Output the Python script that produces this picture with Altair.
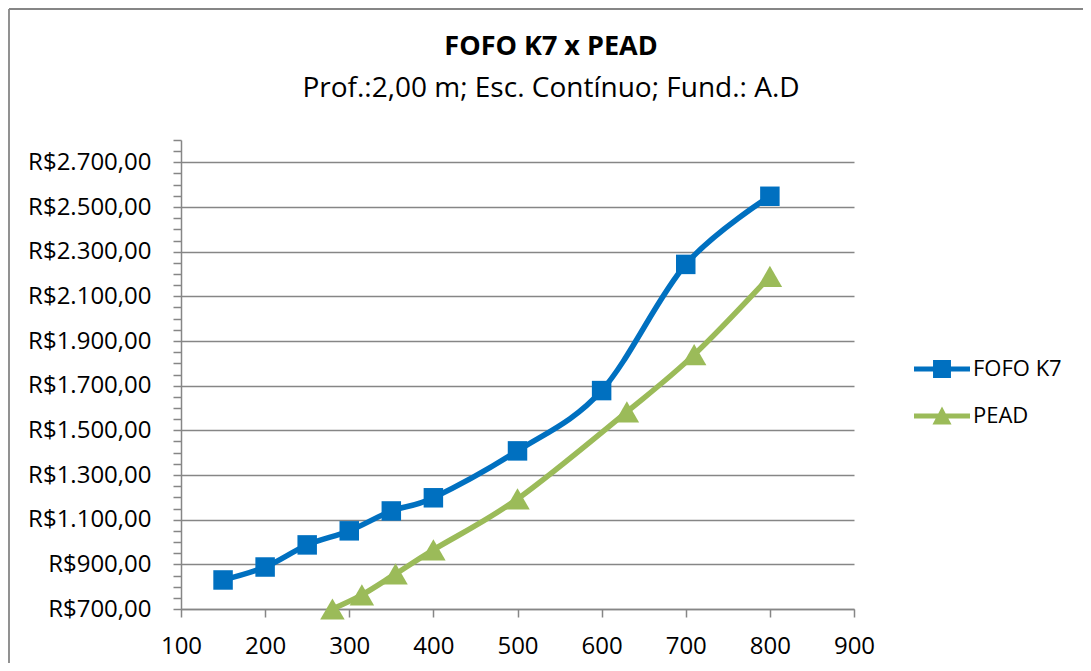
import altair as alt
import pandas as pd

# Data
fofo_x = [150, 200, 250, 300, 350, 400, 500, 600, 700, 800]
fofo_y = [830, 888, 987, 1050, 1139, 1198, 1408, 1678, 2243, 2548]
pead_x = [280, 315, 355, 400, 500, 630, 710, 800]
pead_y = [700, 763, 857, 965, 1193, 1583, 1839, 2189]
series_names = ["FOFO K7", "PEAD"]
colors = ["#0070C0", "#9BBB59"]
x_ticks = [100, 200, 300, 400, 500, 600, 700, 800, 900]
y_ticks = list(range(700, 2801, 50))
title_text = "FOFO K7 x PEAD"
subtitle_text = "Prof.:2,00 m; Esc. Contínuo; Fund.: A.D"

df = pd.DataFrame({
    "x": fofo_x + pead_x,
    "y": fofo_y + pead_y,
    "s": ["FOFO K7"] * len(fofo_x) + ["PEAD"] * len(pead_x),
    "o": list(range(len(fofo_x))) + list(range(len(pead_x))),
})

FONT = "Open Sans"
GRAY = "#868686"

x_enc = alt.X("x:Q", scale=alt.Scale(domain=[100, 900], nice=False, zero=False),
              axis=alt.Axis(values=x_ticks, grid=False, title=None, labelFontSize=24,
                            labelFont=FONT, labelColor="#000000", labelPadding=17,
                            tickSize=8, tickColor=GRAY, domainColor=GRAY,
                            domainWidth=1.5, tickWidth=1.5, labelFlush=False))
y_enc = alt.Y("y:Q", scale=alt.Scale(domain=[700, 2800], nice=False, zero=False),
              axis=alt.Axis(values=y_ticks, title=None, labelFontSize=24, labelFont=FONT,
                            labelColor="#000000", labelPadding=22,
                            labelExpr="(datum.value - 700) % 200 == 0 ? 'R$' + replace(replace(replace(format(datum.value, ',.2f'), ',', '#'), '.', ','), '#', '.') : ''",
                            tickSize=8, tickColor=GRAY, domainColor=GRAY,
                            domainWidth=1.5, tickWidth=1.5,
                            gridColor=GRAY, gridWidth=1.6,
                            gridOpacity=alt.condition("(datum.value - 700) % 200 == 0", alt.value(1), alt.value(0)),
                            labelFlush=False, labelOverlap=False))

color_scale = alt.Scale(domain=series_names, range=colors)

lines = alt.Chart(df).mark_line(interpolate="cardinal", strokeWidth=5.5).encode(
    x=x_enc, y=y_enc,
    color=alt.Color("s:N", scale=color_scale, legend=None),
    order="o:Q",
)

squares = alt.Chart(df).transform_filter("datum.s == 'FOFO K7'").mark_point(
    filled=True, opacity=1, size=380, shape="square"
).encode(x=x_enc, y=y_enc, color=alt.Color("s:N", scale=color_scale, legend=None))

triangles = alt.Chart(df).transform_filter("datum.s == 'PEAD'").mark_point(
    filled=True, opacity=1, size=600, shape="triangle-up"
).encode(x=x_enc, y=y_enc, color=alt.Color("s:N", scale=color_scale, legend=None))

sq_path = "M-1,-0.09L1,-0.09L1,0.09L-1,0.09Z M-0.32,-0.32L0.32,-0.32L0.32,0.32L-0.32,0.32Z"
tri_path = "M-1,-0.09L1,-0.09L1,0.09L-1,0.09Z M0,-0.34L0.34,0.3L-0.34,0.3Z"

leg = alt.Legend(title=None, orient="none", legendX=733, legendY=201,
                 symbolSize=3136, labelFontSize=22, labelFont=FONT,
                 labelColor="#000000", labelOffset=3, rowPadding=8,
                 symbolStrokeWidth=0, symbolOpacity=1)

legend_layer = alt.Chart(df).transform_filter("datum.x < 0").mark_point(filled=True, opacity=1).encode(
    x=x_enc, y=y_enc,
    color=alt.Color("s:N", scale=color_scale, legend=leg),
    shape=alt.Shape("s:N", scale=alt.Scale(domain=series_names, range=[sq_path, tri_path]), legend=leg),
)

# chart frame: left and top edges only are visible in the reference
frame_left = alt.Chart(pd.DataFrame({"a": [0]})).mark_rule(stroke=GRAY, strokeWidth=1.8).encode(
    x=alt.value(-172), y=alt.value(-131), y2=alt.value(600))
frame_top = alt.Chart(pd.DataFrame({"a": [0]})).mark_rule(stroke=GRAY, strokeWidth=1.8).encode(
    x=alt.value(-172), x2=alt.value(1000), y=alt.value(-131))

title_mark = alt.Chart(pd.DataFrame({"t": [title_text]})).mark_text(
    font=FONT, fontSize=27, fontWeight="bold", color="#000000", align="center", baseline="middle"
).encode(text="t:N", x=alt.value(370), y=alt.value(-93))

subtitle_mark = alt.Chart(pd.DataFrame({"t": [subtitle_text]})).mark_text(
    font=FONT, fontSize=28, color="#000000", align="center", baseline="middle"
).encode(text="t:N", x=alt.value(370), y=alt.value(-51))

chart = alt.layer(frame_left, frame_top, title_mark, subtitle_mark, lines, squares, triangles, legend_layer).resolve_scale(
    shape="independent", color="independent"
).properties(
    width=673, height=469,
    autosize=alt.AutoSizeParams(type="none"),
    padding={"left": 173, "top": 132, "right": 229, "bottom": 54},
).configure(background="#ffffff", view=alt.ViewConfig(strokeWidth=0))

chart.save("out.html", embed_options={"renderer": "svg", "actions": False})
